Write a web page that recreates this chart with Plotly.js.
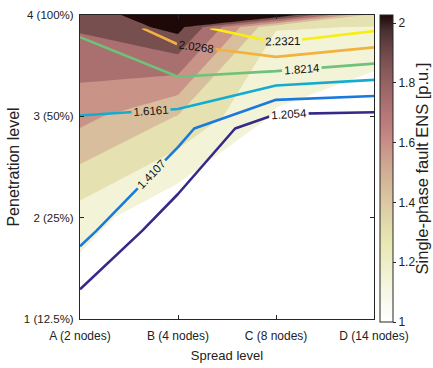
<!DOCTYPE html>
<html>
<head>
<meta charset="utf-8">
<script src="https://cdn.plot.ly/plotly-3.0.1.min.js"></script>
<style>html,body{margin:0;padding:0;background:#fff;}#chart{width:433px;height:368px;}</style>
</head>
<body>
<div id="chart"></div>
<script>
// ---- data ----
const spreadPos = [1, 2, 3, 4];
const spreadLabels = ['A (2 nodes)', 'B (4 nodes)', 'C (8 nodes)', 'D (14 nodes)'];
const penTickVals = [1, 2, 3, 4];
const penTickText = ['1 (12.5%)', '2 (25%)', '3 (50%)', '4 (100%)'];

// filled map (ENS, p.u.)
const fillRows = [1, 2, 3, 3.88, 4];
const fillZ = [
  [1.000, 1.000, 1.000, 1.000],
  [1.224, 1.000, 1.000, 1.000],
  [1.634, 1.434, 1.130, 1.000],
  [1.898, 2.076, 1.300, 1.290],
  [1.930, 2.160, 2.200, 1.360]
];
// iso-lines (ENS, p.u.)
const lineRows = [0.87, 1.87, 2.88, 3.87];
const lineZ = [
  [1.000, 1.000, 1.000, 1.000],
  [1.484, 1.044, 1.000, 1.000],
  [1.582, 1.492, 1.000, 1.000],
  [1.845, 2.131, 2.4375, 2.270]
];
const ensMin = 1.0;
const ensMax = 2.4375;
const lineSteps = 7;
const fillTop = 2.0268;
const fillSteps = 7;

// ---- colours ----
function pinkRev(p) {
  const t = 1 - p;
  const rh = Math.min(1, t / 0.375);
  const gh = Math.max(0, Math.min(1, (t - 0.375) / 0.375));
  const bh = Math.max(0, Math.min(1, (t - 0.75) / 0.25));
  let r = Math.sqrt((2 * t + rh) / 3), g = Math.sqrt((2 * t + gh) / 3), b = Math.sqrt((2 * t + bh) / 3);
  if (p >= 0.999) { r = 0.12; g = 0.03; b = 0.03; }
  return 'rgb(' + Math.round(r * 255) + ',' + Math.round(g * 255) + ',' + Math.round(b * 255) + ')';
}
const contScale = [];
for (let i = 0; i <= 20; i++) contScale.push([i / 20, pinkRev(i / 20)]);
const bandScale = [];
for (let k = 0; k <= fillSteps; k++) bandScale.push([k / fillSteps, pinkRev(k / fillSteps)]);
const parula = [[0, '#352a87'], [0.2, '#1a78de'], [0.4, '#13abcf'], [0.6, '#6fc27a'], [0.8, '#f2b23f'], [1, '#f7ee12']];

const lineStep = (ensMax - ensMin) / lineSteps;
const fillStep = (fillTop - ensMin) / fillSteps;
const font = 'Liberation Sans, Arial, Helvetica, sans-serif';

const fillTrace = {
  type: 'contour', x: spreadPos, y: fillRows, z: fillZ,
  autocontour: false,
  contours: { coloring: 'fill', start: ensMin + fillStep, end: fillTop, size: fillStep, showlines: false },
  line: { width: 0, smoothing: 0 },
  colorscale: bandScale, showscale: false, hoverinfo: 'skip'
};
const lineTrace = {
  type: 'contour', x: spreadPos, y: lineRows, z: lineZ,
  autocontour: false,
  contours: {
    coloring: 'lines', start: ensMin + lineStep, end: ensMin + 6 * lineStep, size: lineStep,
    showlabels: true, labelformat: '.4f',
    labelfont: { family: font, size: 11.5, color: '#111' }
  },
  line: { width: 2.6, smoothing: 0 },
  colorscale: parula, showscale: false, hoverinfo: 'skip'
};
const cbTrace = {
  type: 'scatter', mode: 'markers', x: [2.5], y: [2.5], hoverinfo: 'skip', showlegend: false,
  marker: {
    size: 1, opacity: 0, color: [ensMin], cmin: ensMin, cmax: fillTop, colorscale: contScale, showscale: true,
    colorbar: {
      thickness: 13, thicknessmode: 'pixels', len: 307, lenmode: 'pixels',
      x: 1.0204, xanchor: 'left', xpad: 0, y: 0.495, yanchor: 'middle', ypad: 0,
      outlinecolor: '#262626', outlinewidth: 1,
      tick0: 1, dtick: 0.2, ticks: 'outside', ticklen: 3, tickcolor: '#262626',
      tickfont: { family: font, size: 12, color: '#222' }
    }
  }
};

const axisCommon = {
  range: [1, 4], showline: true, linecolor: '#262626', linewidth: 1, mirror: 'ticks',
  ticks: 'inside', ticklen: 4, tickcolor: '#262626',
  showgrid: true, gridcolor: '#d9d9d9', griddash: 'dot', gridwidth: 1, zeroline: false,
  tickfont: { family: font, size: 11.5, color: '#222' }
};
const layout = {
  width: 433, height: 368,
  margin: { l: 80, r: 59, t: 15, b: 49 },
  paper_bgcolor: '#fff', plot_bgcolor: '#fff',
  showlegend: false,
  xaxis: Object.assign({}, axisCommon, {
    tickvals: spreadPos, ticktext: spreadLabels, ticklabelstandoff: 6,
    tickfont: { family: font, size: 12, color: '#222' },
    title: { text: 'Spread level', font: { family: font, size: 13, color: '#222' }, standoff: 8 }
  }),
  yaxis: Object.assign({}, axisCommon, {
    tickvals: penTickVals, ticktext: penTickText, ticklabelstandoff: 3,
    title: { text: 'Penetration level', font: { family: font, size: 16, color: '#222' }, standoff: 0 }
  }),
  annotations: [{
    text: 'Single-phase fault ENS [p.u.]', textangle: -90, showarrow: false,
    xref: 'paper', yref: 'paper', x: 1.163, y: 0.495, xanchor: 'center', yanchor: 'middle',
    font: { family: font, size: 16.5, color: '#222' }
  }]
};
Plotly.newPlot('chart', [fillTrace, lineTrace, cbTrace], layout, { displayModeBar: false, staticPlot: true });
</script>
</body>
</html>
